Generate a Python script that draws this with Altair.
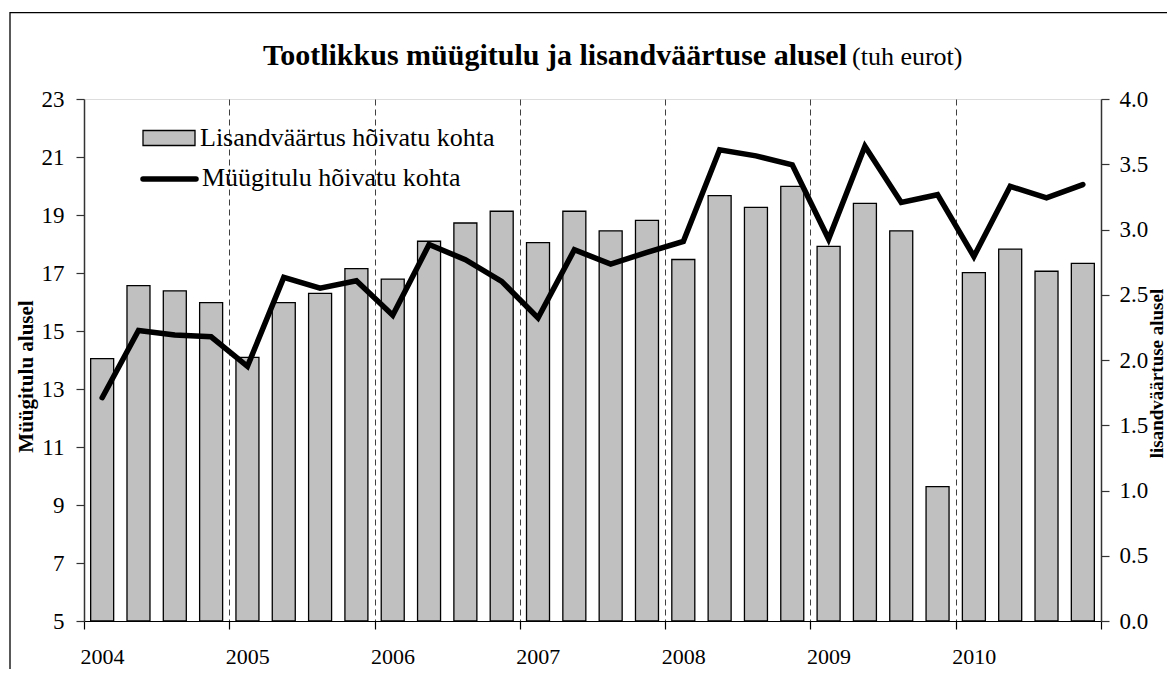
import altair as alt
import pandas as pd

# ---- data ----
quarters = [f"{y} Q{q}" for y in range(2004, 2011) for q in range(1, 5)]
value_added = [2.01, 2.57, 2.53, 2.44, 2.02, 2.44, 2.51, 2.70,
               2.62, 2.91, 3.05, 3.14, 2.90, 3.14, 2.99, 3.07,
               2.77, 3.26, 3.17, 3.33, 2.87, 3.20, 2.99, 1.03,
               2.67, 2.85, 2.68, 2.74]
sales = [12.70, 15.02, 14.86, 14.80, 13.78, 16.85, 16.48, 16.73,
         15.54, 17.98, 17.46, 16.71, 15.45, 17.80, 17.31, 17.71,
         18.09, 21.25, 21.04, 20.73, 18.17, 21.37, 19.43, 19.70,
         17.57, 19.99, 19.59, 20.05]
year_ticks = [0, 4, 8, 12, 16, 20, 24, 28]
left_ticks = [5, 7, 9, 11, 13, 15, 17, 19, 21, 23]
right_ticks = [0.0, 0.5, 1.0, 1.5, 2.0, 2.5, 3.0, 3.5, 4.0]

title_bold = "Tootlikkus müügitulu ja lisandväärtuse alusel"
title_unit = "(tuh eurot)"
legend_bar = "Lisandväärtus hõivatu kohta"
legend_line = "Müügitulu hõivatu kohta"
left_title = "Müügitulu alusel"
right_title = "lisandväärtuse alusel"

FONT = "Liberation Serif, Times New Roman, Times, serif"

df = pd.DataFrame({
    "quarter": quarters,
    "pos": [i + 0.5 for i in range(len(quarters))],
    "va": value_added,
    "sales": sales,
})

W, H = 1017, 522

x_axis = alt.Axis(
    values=year_ticks, title=None, grid=True, gridDash=[6, 4], gridColor="#404040",
    gridWidth=1,
    gridOpacity=alt.condition("datum.value == 0 || datum.value == 28", alt.value(0), alt.value(1)),
    domainColor="black", domainWidth=1.2, tickColor="black",
    tickSize=8, tickWidth=1.2,
    labelExpr="datum.value < 28 ? toString(2004 + datum.value / 4) : ''",
    labelOffset=18, labelFont=FONT, labelFontSize=22, labelColor="black",
    labelBaseline="alphabetic", labelPadding=34, labelFlush=False,
)
x_enc = alt.X("pos:Q", scale=alt.Scale(domain=[0, 28], nice=False, zero=False, padding=0),
              axis=x_axis)

bars = alt.Chart(df).mark_bar(
    orient="vertical", size=23, fill="#c0c0c0", stroke="black", strokeWidth=1.3
).encode(
    x=x_enc,
    y=alt.Y("va:Q", scale=alt.Scale(domain=[0, 4], nice=False, padding=0),
            axis=alt.Axis(orient="right", values=right_ticks, format=".1f", title=right_title,
                          grid=False, domainColor="#333333", domainWidth=1.5,
                          tickColor="#333333", tickSize=8, tickWidth=1.2,
                          labelFont=FONT, labelFontSize=23, labelColor="black", labelPadding=10,
                          titleFont=FONT, titleFontSize=19, titleFontWeight="bold",
                          titleColor="black", titleAngle=270, titleX=61, titleY=274,
                          titleAlign="center", titleBaseline="alphabetic")),
)

line = alt.Chart(df).mark_line(
    color="black", strokeWidth=5.5, strokeCap="round", strokeJoin="miter"
).encode(
    x=x_enc,
    y=alt.Y("sales:Q", scale=alt.Scale(domain=[5, 23], nice=False, zero=False, padding=0),
            axis=alt.Axis(orient="left", values=left_ticks, title=left_title, grid=False,
                          domainColor="#333333", domainWidth=1.5,
                          tickColor="#333333", tickSize=8, tickWidth=1.2,
                          labelFont=FONT, labelFontSize=23, labelColor="black", labelPadding=12,
                          titleFont=FONT, titleFontSize=21, titleFontWeight="bold",
                          titleColor="black", titleAngle=270, titleX=-58, titleY=277,
                          titleAlign="center", titleBaseline="middle")),
)

one = pd.DataFrame({"k": [0]})

# legend
leg_rect = alt.Chart(one).mark_rect(fill="#c0c0c0", stroke="black", strokeWidth=1.3).encode(
    x=alt.value(59), x2=alt.value(111), y=alt.value(31.5), y2=alt.value(46.5))
leg_rule = alt.Chart(one).mark_rule(color="black", strokeWidth=5.5, strokeCap="round").encode(
    x=alt.value(59), x2=alt.value(112), y=alt.value(80))
leg_t1 = alt.Chart(pd.DataFrame({"t": [legend_bar]})).mark_text(
    font=FONT, fontSize=26, align="left", baseline="alphabetic", color="black").encode(
    text="t:N", x=alt.value(116), y=alt.value(47))
leg_t2 = alt.Chart(pd.DataFrame({"t": [legend_line]})).mark_text(
    font=FONT, fontSize=26, align="left", baseline="alphabetic", color="black").encode(
    text="t:N", x=alt.value(118), y=alt.value(86.5))

# title
t_bold = alt.Chart(pd.DataFrame({"t": [title_bold]})).mark_text(
    font=FONT, fontSize=30, fontWeight="bold", align="right", baseline="alphabetic",
    color="black").encode(text="t:N", x=alt.value(763), y=alt.value(-33.6))
t_unit = alt.Chart(pd.DataFrame({"t": [title_unit]})).mark_text(
    font=FONT, fontSize=26, align="left", baseline="alphabetic", color="black").encode(
    text="t:N", x=alt.value(768), y=alt.value(-33.6))

# outer frame
frame = alt.Chart(one).mark_rect(fill="white", fillOpacity=0, stroke="black", strokeWidth=1.3).encode(
    x=alt.value(-74), x2=alt.value(1200), y=alt.value(-86.3), y2=alt.value(700))

chart = alt.layer(
    bars, line, leg_rect, leg_rule, leg_t1, leg_t2, t_bold, t_unit, frame
).resolve_scale(y="independent").properties(
    width=W, height=H,
    autosize=alt.AutoSizeParams(type="none"),
    padding={"left": 76, "top": 91, "right": 66, "bottom": 48},
).configure_view(stroke="#8c8c8c", strokeWidth=1.5).configure(background="white")

chart.save("out.html", embed_options={"renderer": "svg", "actions": False})
